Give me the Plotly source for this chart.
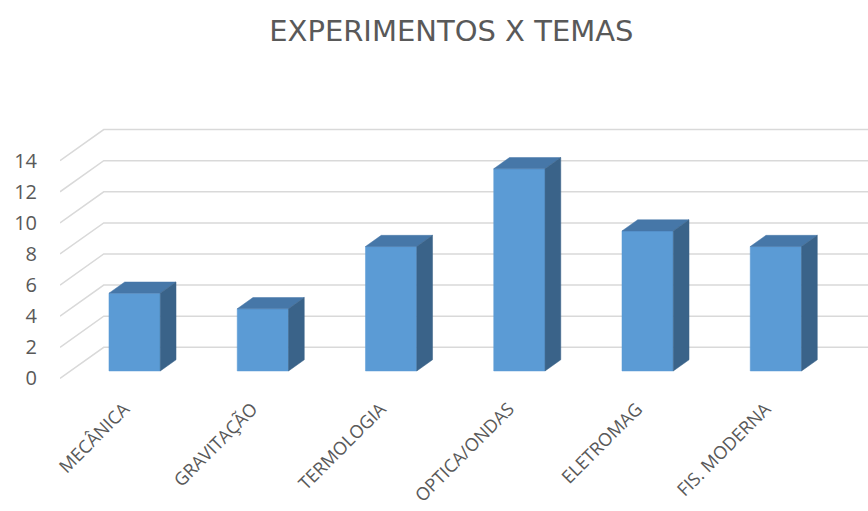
import plotly.graph_objects as go

categories = ["MECÂNICA", "GRAVITAÇÃO", "TERMOLOGIA", "OPTICA/ONDAS", "ELETROMAG", "FIS. MODERNA"]
values = [5, 4, 8, 13, 9, 8]
y_ticks = [0, 2, 4, 6, 8, 10, 12, 14]

# pseudo-3D projection parameters (in data units)
DEPTH_X = 0.341   # full floor depth, x shift
DEPTH_Y = 2.0     # full floor depth, y shift
BAR_Z0 = 0.24     # bar front plane depth fraction
BAR_DZ = 0.36     # bar depth fraction
BAR_W = 0.40
X_LEFT = -0.5
X_RIGHT = 5.8

front_c = "#5B9BD5"
top_c = "#4677A8"
side_c = "#3A6389"
grid_c = "#D9D9D9"

fig = go.Figure()

# back wall gridlines with diagonal side-wall lines
for v in y_ticks:
    fig.add_trace(go.Scatter(
        x=[X_LEFT, X_LEFT + DEPTH_X, X_RIGHT + 1],
        y=[v, v + DEPTH_Y, v + DEPTH_Y],
        mode="lines", line=dict(color=grid_c, width=1.5),
        hoverinfo="skip", showlegend=False))

ox = BAR_Z0 * DEPTH_X
oy = BAR_Z0 * DEPTH_Y
dx = BAR_DZ * DEPTH_X
dy = BAR_DZ * DEPTH_Y

xs = [i + ox for i in range(len(values))]


def poly(px, py, color, name=None):
    fig.add_trace(go.Scatter(
        x=px + [px[0]], y=py + [py[0]], fill="toself", fillcolor=color,
        mode="lines", line=dict(width=0.5, color=color),
        hoverinfo="skip" if name is None else "text",
        text=name, showlegend=False))


for i, v in enumerate(values):
    x0 = xs[i] - BAR_W / 2
    x1 = xs[i] + BAR_W / 2
    yb = oy
    yt = oy + v
    # front face
    poly([x0, x1, x1, x0], [yb, yb, yt, yt], front_c, f"{categories[i]}: {v}")
    # top face
    poly([x0, x1, x1 + dx, x0 + dx], [yt, yt, yt + dy, yt + dy], top_c)
    # side face
    poly([x1, x1 + dx, x1 + dx, x1], [yb, yb + dy, yt + dy, yt], side_c)

fig.update_layout(
    width=868, height=511,
    margin=dict(l=60, r=0, t=114, b=117),
    paper_bgcolor="white", plot_bgcolor="white",
    title=dict(text="EXPERIMENTOS X TEMAS", x=0.52, xanchor="center", y=0.94, yanchor="middle",
               font=dict(family="DejaVu Sans", size=29, color="#595959")),
    font=dict(family="Open Sans", color="#595959"),
)
fig.update_xaxes(range=[X_LEFT, X_RIGHT], tickvals=list(range(len(categories))),
                 ticktext=categories, tickangle=-45, showgrid=False, zeroline=False,
                 showline=False, tickfont=dict(size=18, color="#595959"),
                 ticks="", ticklabelstandoff=0, automargin=False)
fig.update_yaxes(range=[-1, 17], tickvals=y_ticks, showgrid=False, zeroline=False,
                 showline=False, tickfont=dict(size=20, color="#595959"),
                 ticks="", ticklabelstandoff=22, automargin=False)

fig.write_html("out.html")
